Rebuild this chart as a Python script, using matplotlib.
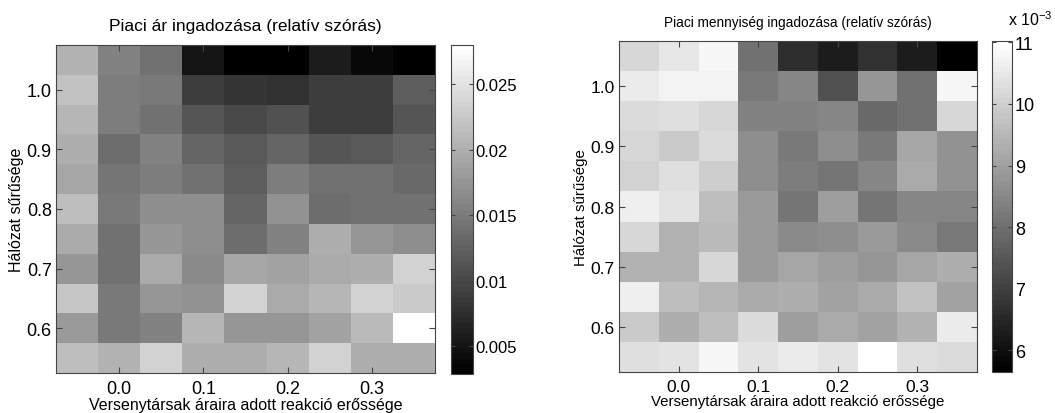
import numpy as np
import matplotlib
matplotlib.use("Agg")
import matplotlib.pyplot as plt

plt.rcParams['font.family'] = ['Liberation Sans', 'DejaVu Sans']
plt.rcParams['mathtext.fontset'] = 'custom'
plt.rcParams['mathtext.rm'] = 'Liberation Sans'

# grid of the simulation runs
reaction = [-0.05, 0.0, 0.05, 0.1, 0.15, 0.2, 0.25, 0.3, 0.35]
density = [1.05, 1.0, 0.95, 0.9, 0.85, 0.8, 0.75, 0.7, 0.65, 0.6, 0.55]

# relative std of market price, rows follow density (top to bottom)
price_std = [
    [0.02042, 0.01550, 0.01392, 0.00487, 0.00290, 0.00310, 0.00585, 0.00369, 0.00290],
    [0.02179, 0.01520, 0.01471, 0.00900, 0.00831, 0.00782, 0.00900, 0.00900, 0.01225],
    [0.02061, 0.01520, 0.01422, 0.01126, 0.01028, 0.01077, 0.00880, 0.00900, 0.01126],
    [0.01982, 0.01353, 0.01550, 0.01274, 0.01176, 0.01294, 0.01126, 0.01176, 0.01274],
    [0.01914, 0.01451, 0.01520, 0.01422, 0.01225, 0.01520, 0.01422, 0.01422, 0.01323],
    [0.02140, 0.01471, 0.01668, 0.01668, 0.01274, 0.01717, 0.01353, 0.01422, 0.01422],
    [0.01943, 0.01392, 0.01766, 0.01668, 0.01372, 0.01569, 0.02012, 0.01766, 0.01668],
    [0.01746, 0.01392, 0.01963, 0.01648, 0.01914, 0.01864, 0.01943, 0.01982, 0.02356],
    [0.02238, 0.01471, 0.01766, 0.01717, 0.02337, 0.01943, 0.02061, 0.02337, 0.02258],
    [0.01815, 0.01490, 0.01569, 0.02081, 0.01766, 0.01766, 0.01864, 0.02110, 0.02800],
    [0.02160, 0.02042, 0.02356, 0.02012, 0.02012, 0.02061, 0.02356, 0.02012, 0.02012],
]

# relative std of market quantity, in units of 1e-3
quantity_std = [
    [10.11, 10.49, 10.81, 8.01, 6.60, 6.28, 6.70, 6.32, 5.65],
    [10.60, 10.75, 10.75, 8.22, 8.49, 7.38, 8.81, 8.07, 10.81],
    [10.24, 10.33, 10.18, 8.39, 8.39, 8.49, 7.86, 8.01, 10.11],
    [10.18, 9.86, 10.24, 8.64, 8.18, 8.64, 8.22, 9.12, 8.70],
    [10.07, 10.33, 9.97, 8.64, 8.28, 8.14, 8.49, 9.19, 8.70],
    [10.66, 10.39, 9.65, 8.85, 8.14, 8.98, 8.14, 8.49, 8.49],
    [10.18, 9.40, 9.55, 8.85, 8.56, 8.64, 8.85, 8.56, 8.18],
    [9.40, 9.40, 10.11, 8.91, 9.12, 8.98, 8.77, 9.12, 9.34],
    [10.66, 9.61, 9.48, 9.19, 9.27, 9.06, 9.19, 9.69, 9.06],
    [9.86, 9.34, 9.61, 10.24, 8.98, 9.23, 9.06, 9.40, 10.60],
    [10.28, 10.39, 10.81, 10.39, 10.54, 10.39, 11.02, 10.33, 10.24],
]

x_ticks = [0.0, 0.1, 0.2, 0.3]
y_ticks = [0.6, 0.7, 0.8, 0.9, 1.0]
price_cticks = [0.005, 0.01, 0.015, 0.02, 0.025]
quantity_cticks = [6, 7, 8, 9, 10, 11]

xlabel = "Versenytársak áraira adott reakció erőssége"
ylabel = "Hálózat sűrűsége"

W, H = 1055, 414
fig = plt.figure(figsize=(W / 100, H / 100), dpi=100)


def px(x0, y0, x1, y1):
    # pixel box (top-left origin) -> figure fraction rect
    return [x0 / W, (H - y1) / H, (x1 - x0) / W, (y1 - y0) / H]


def edges(centers):
    c = np.sort(np.array(centers))
    step = c[1] - c[0]
    return np.concatenate([c - step / 2, [c[-1] + step / 2]])


cmap = plt.get_cmap('gray', 64)
edge_col = '#444444'


def draw(ax_rect, cax_rect, data, title, title_size, label_size, tick_size, ctick_size,
         cticks, clabels):
    ax = fig.add_axes(px(*ax_rect))
    cax = fig.add_axes(px(*cax_rect))
    z = np.array(data)[::-1]  # rows ascending in density
    mesh = ax.pcolormesh(edges(reaction), edges(density), z, cmap=cmap,
                         vmin=z.min(), vmax=z.max(), shading='flat')
    ax.set_xlim(edges(reaction)[0], edges(reaction)[-1])
    ax.set_ylim(edges(density)[0], edges(density)[-1])
    ax.set_xticks(x_ticks)
    ax.set_xticklabels([f"{v:.1f}" for v in x_ticks])
    ax.set_yticks(y_ticks)
    ax.set_yticklabels([f"{v:.1f}" for v in y_ticks])
    ax.tick_params(direction='in', top=True, right=True, length=4,
                   labelsize=tick_size, color=edge_col)
    ax.tick_params(axis='y', pad=3)
    ax.tick_params(axis='x', pad=5)
    for s in ax.spines.values():
        s.set_color(edge_col)
    ax.set_title(title, fontsize=title_size, pad=11)
    ax.set_xlabel(xlabel, fontsize=label_size, labelpad=0)
    ax.set_ylabel(ylabel, fontsize=label_size, labelpad=2)

    cb = fig.colorbar(mesh, cax=cax)
    cb.set_ticks(cticks)
    cb.set_ticklabels(clabels)
    cax.tick_params(direction='in', left=True, right=True, length=3,
                    labelsize=ctick_size, color=edge_col, pad=2)
    cb.outline.set_edgecolor(edge_col)
    return ax, cax


draw((56, 46, 435, 374), (451, 46, 473, 375), price_std,
     "Piaci ár ingadozása (relatív szórás)", 12.5, 11.5, 13, 12,
     price_cticks, ["0.005", "0.01", "0.015", "0.02", "0.025"])

draw((619, 42, 977, 373), (992, 42, 1012, 373), quantity_std,
     "Piaci mennyiség ingadozása (relatív szórás)", 9.8, 10.8, 12.5, 13,
     quantity_cticks, [str(v) for v in quantity_cticks])

# exponent of the quantity colourbar
fig.text(1053 / W, (H - 29) / H, r"x 10$^{\mathrm{-3}}$", fontsize=11.5,
         ha='right', va='bottom')

plt.savefig("out.png", dpi=100)
